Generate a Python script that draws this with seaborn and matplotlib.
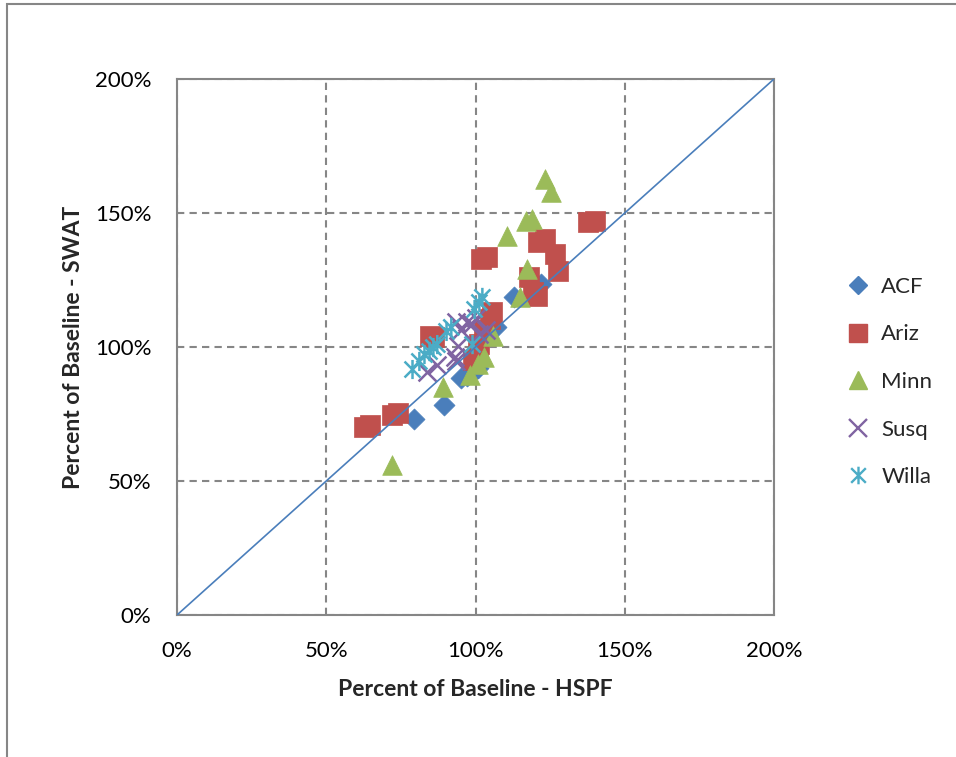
import matplotlib
matplotlib.use("Agg")
import matplotlib.pyplot as plt
import seaborn as sns
from matplotlib.lines import Line2D
from matplotlib.path import Path
from matplotlib.patches import Rectangle
from matplotlib.ticker import PercentFormatter

# values, in percent of baseline
acf_x = [79.5, 89.6, 95.3, 97.0, 99.3, 100.7, 107.0, 113.0, 122.0]
acf_y = [73.3, 78.5, 88.6, 89.3, 90.8, 92.3, 107.3, 118.5, 123.4]

ariz_x = [62.5, 64.5, 72.0, 74.0, 84.6, 86.2, 102.0, 103.7, 99.0, 100.7, 101.3, 103.0,
          104.7, 105.4, 117.8, 119.1, 120.5, 120.8, 123.2, 126.5, 127.5, 137.6, 140.0]
ariz_y = [70.3, 71.0, 74.8, 75.5, 104.0, 103.6, 132.7, 133.5, 95.3, 98.3, 101.0, 106.5,
          110.3, 112.9, 126.0, 120.4, 119.0, 139.0, 140.2, 134.6, 128.2, 146.5, 146.9]

minn_x = [72.1, 89.0, 98.0, 100.7, 103.0, 105.7, 110.7, 115.0, 117.1, 116.8, 118.8, 123.2, 125.2]
minn_y = [56.0, 85.2, 89.7, 93.5, 96.4, 104.0, 141.3, 118.5, 129.0, 147.0, 147.7, 162.6, 158.0]

susq_x = [83.9, 87.2, 93.0, 93.6, 94.0, 95.3, 93.6, 97.0, 98.7, 100.3, 101.3, 103.4]
susq_y = [90.8, 93.1, 96.4, 94.6, 100.2, 106.5, 109.2, 109.5, 108.4, 111.0, 104.7, 106.5]

willa_x = [78.9, 81.2, 82.9, 84.6, 85.9, 87.2, 90.3, 91.9, 99.0, 99.7, 101.3, 102.3]
willa_y = [91.6, 94.6, 97.2, 98.3, 99.8, 100.9, 105.8, 107.3, 100.9, 114.0, 116.6, 118.5]

one_to_one = [0, 200]

ticks = [0, 50, 100, 150, 200]

sns.set_theme(style="white")
plt.rcParams["font.family"] = ["Lato", "DejaVu Sans"]

# Excel style star: an x with a vertical bar through it
star = Path([(-0.5, -0.5), (0.5, 0.5), (-0.5, 0.5), (0.5, -0.5), (0, -0.6), (0, 0.6)],
            [Path.MOVETO, Path.LINETO, Path.MOVETO, Path.LINETO, Path.MOVETO, Path.LINETO])

series = [
    ("ACF", acf_x, acf_y, "D", "#4A7EBB", 115),
    ("Ariz", ariz_x, ariz_y, "s", "#C0504D", 205),
    ("Minn", minn_x, minn_y, "^", "#9BBB59", 200),
    ("Susq", susq_x, susq_y, "x", "#8064A2", 165),
    ("Willa", willa_x, willa_y, star, "#4BACC6", 190),
]

fig = plt.figure(figsize=(9.56, 7.57), dpi=100)
fig.patches.append(Rectangle((7 / 956, -0.1), 1.2, 1 - 4 / 757 + 0.1, transform=fig.transFigure,
                             fill=False, edgecolor="#868686", linewidth=1.5))
ax = fig.add_axes([177 / 956, 142 / 757, 597 / 956, 536 / 757])

handles = []
for name, xs, ys, mk, col, size in series:
    leg_size = min(size, 160) ** 0.5
    if name == "Willa":
        sns.scatterplot(x=xs, y=ys, marker=mk, s=size, facecolor="none", edgecolor=col,
                        linewidth=1.8, ax=ax, zorder=3)
        h = Line2D([], [], linestyle="none", marker=mk, markersize=leg_size,
                   markerfacecolor="none", markeredgecolor=col, markeredgewidth=1.7)
    elif name == "Susq":
        sns.scatterplot(x=xs, y=ys, marker=mk, s=size, color=col, linewidth=1.8,
                        ax=ax, zorder=3)
        h = Line2D([], [], linestyle="none", marker=mk, markersize=leg_size,
                   color=col, markeredgewidth=1.7)
    else:
        sns.scatterplot(x=xs, y=ys, marker=mk, s=size, color=col, edgecolor=col,
                        linewidth=0.5, ax=ax, zorder=3)
        h = Line2D([], [], linestyle="none", marker=mk,
                   markersize=min(size, 150 if mk != "D" else 85) ** 0.5,
                   markerfacecolor=col, markeredgecolor=col)
    handles.append((h, name))

sns.lineplot(x=one_to_one, y=one_to_one, color="#4A7EBB", linewidth=1.2, ax=ax, zorder=4)

ax.set_xlim(0, 200)
ax.set_ylim(0, 200)
ax.set_xticks(ticks)
ax.set_yticks(ticks)
ax.xaxis.set_major_formatter(PercentFormatter(100, decimals=0))
ax.yaxis.set_major_formatter(PercentFormatter(100, decimals=0))
ax.tick_params(axis="both", length=0, labelsize=16, colors="black")
ax.tick_params(axis="x", pad=19)
ax.tick_params(axis="y", pad=18.5)

ax.grid(True, color="#868686", linewidth=1.5, linestyle=(0, (3.5, 2.5)))
for t in ax.xaxis.get_major_ticks() + ax.yaxis.get_major_ticks():
    if t.get_loc() == 100:
        t.gridline.set_linestyle("-")
for sp in ax.spines.values():
    sp.set_color("#868686")
    sp.set_linewidth(1.5)

ax.set_xlabel("Percent of Baseline - HSPF", fontsize=16.5, fontweight="bold", labelpad=13)
ax.set_ylabel("Percent of Baseline - SWAT", fontsize=16.5, fontweight="bold", labelpad=8)

fig.legend([h for h, _ in handles], [n for _, n in handles], loc="upper left",
           bbox_to_anchor=(838 / 956, 1 - 268 / 757), frameon=False, fontsize=16,
           handlelength=1.0, handletextpad=0.55, labelspacing=1.24, borderaxespad=0)

fig.savefig("out.png", dpi=100)
